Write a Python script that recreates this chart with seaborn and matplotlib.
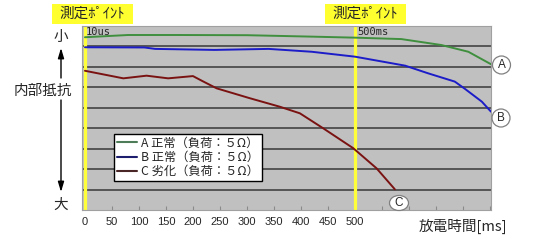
import matplotlib
matplotlib.use("Agg")
import matplotlib.pyplot as plt
import seaborn as sns
import pandas as pd
from matplotlib.patches import Rectangle, Ellipse

# ---- data ----
series_names = ["A 正常（負荷：５Ω）", "B 正常（負荷：５Ω）", "C 劣化（負荷：５Ω）"]

time_A = [0, 80, 165, 300, 420, 500, 586, 660, 710, 752]
res_A = [8.45, 8.56, 8.56, 8.55, 8.48, 8.43, 8.36, 8.07, 7.74, 7.13]

time_B = [0, 110, 130, 240, 340, 420, 500, 593, 635, 685, 704, 735, 752]
res_B = [7.96, 7.95, 7.88, 7.83, 7.88, 7.74, 7.50, 7.06, 6.69, 6.28, 5.92, 5.30, 4.81]

time_C = [0, 71, 114, 154, 200, 218, 244, 305, 361, 398, 441, 497, 540, 574]
res_C = [6.81, 6.44, 6.57, 6.44, 6.55, 6.30, 5.95, 5.47, 5.05, 4.73, 4.00, 3.02, 2.04, 1.01]

x_ticks = list(range(0, 751, 50))
x_tick_labels = [str(v) if v <= 500 else "" for v in x_ticks]
grid_levels = list(range(1, 9))
measure_points = [0, 500]
measure_label = "測定ﾎﾟｲﾝﾄ"
point_notes = ["10us", "500ms"]
end_marks = ["A", "B", "C"]

line_colors = ["#3f8f3f", "#1c1cc8", "#7a1212"]
legend_colors = ["#4d7d58", "#1e1e6e", "#4a2626"]

df = pd.concat([
    pd.DataFrame({"time": time_A, "res": res_A, "series": series_names[0]}),
    pd.DataFrame({"time": time_B, "res": res_B, "series": series_names[1]}),
    pd.DataFrame({"time": time_C, "res": res_C, "series": series_names[2]}),
], ignore_index=True)

sns.set_theme(style="white")
plt.rcParams["font.family"] = ["Noto Sans CJK JP", "DejaVu Sans"]

W, H = 540, 240
fig = plt.figure(figsize=(5.4, 2.4), dpi=100)
ax = fig.add_axes([82 / W, 30 / H, 409 / W, 184 / H])
ax.set_facecolor("#c0c0c0")

# yellow measurement lines
for mp in measure_points:
    ax.axvline(mp, color="#ffff3a", lw=2.3, zorder=1.5)

sns.lineplot(data=df, x="time", y="res", hue="series", palette=line_colors,
             sort=False, estimator=None, lw=1.4, ax=ax, zorder=3)

ax.set_xlim(-5.5, 752)
ax.set_ylim(0, 9)
ax.set_yticks(grid_levels)
ax.yaxis.grid(True, color="#383838", lw=1.1)
ax.xaxis.grid(False)
ax.set_axisbelow(True)
ax.tick_params(axis="y", left=False, labelleft=False)
ax.set_xticks(x_ticks)
ax.set_xticklabels(x_tick_labels, fontfamily="Liberation Sans")
ax.tick_params(axis="x", direction="in", length=3, color="#8a8a8a", width=0.8,
               labelsize=8, pad=5, bottom=True)
ax.set_xlabel("")
ax.set_ylabel("")
for s in ax.spines.values():
    s.set_color("#a0a0a0")
    s.set_linewidth(0.8)

# notes near top
ax.text(2, 8.7, point_notes[0], fontfamily="DejaVu Sans Mono", fontsize=7.5,
        ha="left", va="center", zorder=4)
ax.text(505, 8.7, point_notes[1], fontfamily="DejaVu Sans Mono", fontsize=7.5,
        ha="left", va="center", zorder=4)

# legend
handles, labels = ax.get_legend_handles_labels()
leg = ax.legend(handles, labels, loc="upper left", bbox_to_anchor=(0.078, 0.413),
                frameon=True, fancybox=False, edgecolor="black", framealpha=1,
                fontsize=8.8, handlelength=1.7, handletextpad=0.3, borderpad=0.22,
                labelspacing=0.1, borderaxespad=0)
leg.get_frame().set_linewidth(1.0)
for h, c in zip(leg.get_lines(), legend_colors):
    h.set_color(c)
    h.set_linewidth(1.5)

# yellow label boxes
for cx in [92.5, 365.5]:
    fig.add_artist(Rectangle(((cx - 40.5) / W, (H - 24) / H), 81 / W, 20 / H,
                             transform=fig.transFigure, facecolor="#ffff30",
                             edgecolor="none"))
    fig.text(cx / W, (H - 14) / H, measure_label, fontsize=10.5, ha="center",
             va="center")

# end markers (circles)
for (cx, cy, w, h), lab in zip([(501.5, 65, 18, 18), (501, 118, 18, 18), (399, 203, 19, 15)], end_marks):
    fig.add_artist(Ellipse((cx / W, (H - cy) / H), w / W, h / H, transform=fig.transFigure,
                           facecolor="white", edgecolor="#808080", lw=0.9, zorder=10))
    fig.text(cx / W, (H - cy) / H, lab, fontsize=8.5, ha="center", va="center",
             fontfamily="Liberation Sans", zorder=11)

# left axis annotation
fig.text(61 / W, (H - 37) / H, "小", fontsize=10.5, ha="center", va="center")
fig.text(61 / W, (H - 205) / H, "大", fontsize=10.5, ha="center", va="center")
fig.text(43 / W, (H - 91) / H, "内部抵抗", fontsize=10.5, ha="center", va="center")
ax.annotate("", xy=(61, H - 48), xytext=(61, H - 78), xycoords="figure pixels",
            textcoords="figure pixels",
            arrowprops=dict(arrowstyle="-|>,head_length=0.5,head_width=0.15",
                            color="black", lw=1, shrinkA=0, shrinkB=0))
ax.annotate("", xy=(61, H - 192), xytext=(61, H - 100), xycoords="figure pixels",
            textcoords="figure pixels",
            arrowprops=dict(arrowstyle="-|>,head_length=0.5,head_width=0.15",
                            color="black", lw=1, shrinkA=0, shrinkB=0))

fig.text(463 / W, (H - 226) / H, "放電時間[ms]", fontsize=10.5, ha="center", va="center")

fig.savefig("out.png", dpi=100)
